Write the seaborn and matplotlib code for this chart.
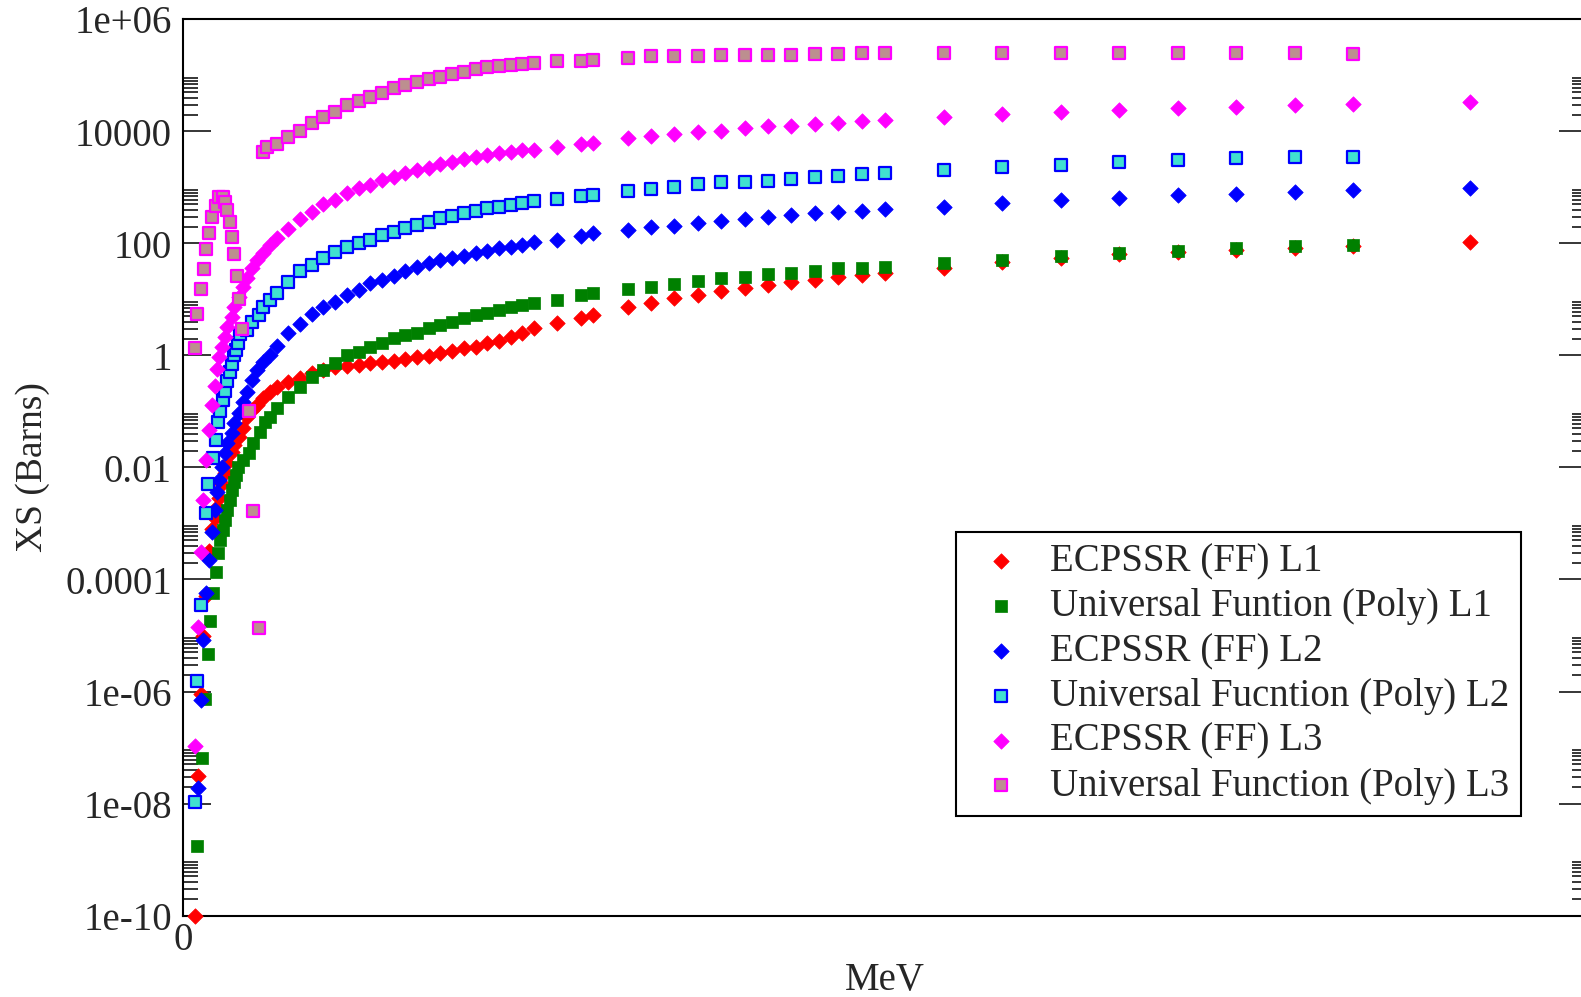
import numpy as np
import pandas as pd
import matplotlib.pyplot as plt
import seaborn as sns

# -----------------------------
# data
# energies in MeV, cross sections given as log10(barns)
# -----------------------------
mev_ec_l1 = [0.5, 0.65, 0.75, 0.85, 1.0, 1.1, 1.25, 1.35, 1.45, 1.55, 1.65, 1.8, 1.9, 2.1, 2.2,
             2.4, 2.55, 2.75, 2.95, 3.15, 3.4, 3.7, 4.0, 4.5, 5.0, 5.5, 6.0, 6.5, 7.0, 7.5,
             8.0, 8.5, 9.0, 9.5, 10, 10.5, 11, 11.5, 12, 12.5, 13, 13.5, 14, 14.5, 15,
             16, 17, 17.5, 19, 20, 21, 22, 23, 24, 25, 26, 27, 28, 29, 30,
             32.5, 35, 37.5, 40, 42.5, 45, 47.5, 50, 55]
log_ec_l1 = [-10.0, -7.5, -6.05, -5.0, -4.3, -3.5, -3.1, -2.9, -2.7, -2.55, -2.3, -2.1, -1.92, -1.72, -1.6,
             -1.45, -1.3, -1.1, -0.98, -0.88, -0.76, -0.66, -0.57, -0.48, -0.4, -0.32, -0.26, -0.21, -0.19, -0.17,
             -0.14, -0.12, -0.10, -0.06, -0.03, -0.01, 0.04, 0.08, 0.13, 0.15, 0.22, 0.26, 0.33, 0.40, 0.49,
             0.58, 0.67, 0.72, 0.87, 0.94, 1.03, 1.08, 1.15, 1.20, 1.26, 1.31, 1.35, 1.40, 1.44, 1.47,
             1.56, 1.67, 1.74, 1.81, 1.85, 1.88, 1.92, 1.96, 2.03]

mev_uf_l1 = [0.6, 0.8, 0.95, 1.05, 1.15, 1.3, 1.4, 1.5, 1.6, 1.7, 1.8, 1.9, 2.0, 2.1, 2.2,
             2.25, 2.35, 2.55, 2.8, 3.0, 3.3, 3.5, 3.7, 4.0, 4.5, 5.0, 5.5, 6.0, 6.5, 7.0,
             7.5, 8.0, 8.5, 9.0, 9.5, 10, 10.5, 11, 11.5, 12, 12.5, 13, 13.5, 14, 14.5,
             15, 16, 17, 17.5, 19, 20, 21, 22, 23, 24, 25, 26, 27, 28, 29,
             30, 32.5, 35, 37.5, 40, 42.5, 45, 47.5, 50]
log_uf_l1 = [-8.75, -7.18, -6.13, -5.33, -4.74, -4.24, -3.87, -3.53, -3.30, -3.12, -2.94, -2.76, -2.58, -2.40, -2.26,
             -2.13, -1.99, -1.86, -1.74, -1.56, -1.37, -1.19, -1.10, -0.94, -0.74, -0.56, -0.38, -0.26, -0.13, 0.01,
             0.06, 0.15, 0.22, 0.31, 0.37, 0.40, 0.49, 0.54, 0.60, 0.67, 0.72, 0.76, 0.81, 0.87, 0.90,
             0.94, 0.99, 1.08, 1.12, 1.19, 1.22, 1.28, 1.33, 1.38, 1.40, 1.45, 1.47, 1.51, 1.56, 1.56,
             1.58, 1.65, 1.71, 1.78, 1.83, 1.87, 1.92, 1.95, 1.97]

mev_ec_l2 = mev_ec_l1[1:]
log_ec_l2 = [-7.72, -6.15, -5.08, -4.24, -3.65, -3.15, -2.76, -2.44, -2.22, -1.99, -1.74, -1.56, -1.38, -1.2,
             -1.02, -0.83, -0.65, -0.44, -0.26, -0.12, 0.01, 0.17, 0.40, 0.56, 0.74, 0.86, 0.96, 1.08, 1.17,
             1.29, 1.35, 1.42, 1.51, 1.58, 1.65, 1.71, 1.74, 1.78, 1.83, 1.87, 1.92, 1.94, 1.97, 2.02,
             2.07, 2.13, 2.18, 2.24, 2.29, 2.31, 2.37, 2.40, 2.44, 2.47, 2.51, 2.54, 2.56, 2.58, 2.62,
             2.65, 2.72, 2.78, 2.81, 2.87, 2.89, 2.92, 2.96, 2.99]

mev_uf_l2 = [0.5, 0.6, 0.75, 1.0, 1.05, 1.3, 1.4, 1.5, 1.6, 1.7, 1.8, 1.9, 2.0, 2.1, 2.2,
             2.25, 2.35, 2.45, 2.75, 2.95, 3.25, 3.4, 3.7, 4.0, 4.5, 5.0, 5.5, 6.0, 6.5, 7.0,
             7.5, 8.0, 8.5, 9.0, 9.5, 10, 10.5, 11, 11.5, 12, 12.5, 13, 13.5, 14, 14.5,
             15, 16, 17, 17.5, 19, 20, 21, 22, 23, 24, 25, 26, 27, 28, 29,
             30, 32.5, 35, 37.5, 40, 42.5, 45, 47.5, 50]
log_uf_l2 = [-7.97, -5.81, -4.46, -2.81, -2.29, -1.83, -1.51, -1.19, -1.0, -0.79, -0.63, -0.46, -0.30, -0.15, 0.0,
             0.10, 0.22, 0.38, 0.45, 0.60, 0.72, 0.87, 0.99, 1.12, 1.32, 1.50, 1.62, 1.74, 1.84, 1.93,
             2.00, 2.07, 2.15, 2.21, 2.27, 2.33, 2.39, 2.45, 2.49, 2.54, 2.58, 2.63, 2.66, 2.69, 2.72,
             2.75, 2.79, 2.84, 2.87, 2.94, 2.97, 3.01, 3.06, 3.09, 3.10, 3.12, 3.16, 3.19, 3.21, 3.24,
             3.25, 3.31, 3.36, 3.41, 3.45, 3.49, 3.52, 3.54, 3.55]

mev_ec_l3 = mev_ec_l1
log_ec_l3 = [-6.97, -4.85, -3.51, -2.58, -1.87, -1.33, -0.88, -0.54, -0.24, -0.03, 0.15, 0.33, 0.51, 0.69, 0.87,
             1.04, 1.22, 1.38, 1.56, 1.71, 1.83, 1.97, 2.10, 2.26, 2.44, 2.56, 2.71, 2.78, 2.90, 2.99,
             3.04, 3.13, 3.19, 3.26, 3.31, 3.35, 3.42, 3.46, 3.51, 3.54, 3.58, 3.62, 3.63, 3.67, 3.67,
             3.73, 3.78, 3.80, 3.88, 3.92, 3.96, 3.99, 4.01, 4.06, 4.09, 4.10, 4.13, 4.16, 4.19, 4.21,
             4.26, 4.31, 4.35, 4.39, 4.42, 4.44, 4.47, 4.49, 4.53]

mev_uf_l3 = [0.5, 0.6, 0.75, 0.9, 1.0, 1.1, 1.25, 1.4, 1.55, 1.7, 1.8, 1.9, 2.0, 2.1, 2.2,
             2.3, 2.4, 2.5, 2.8, 3.0, 3.25, 3.4, 3.6, 4.0, 4.5, 5.0, 5.5, 6.0, 6.5, 7.0,
             7.5, 8.0, 8.5, 9.0, 9.5, 10, 10.5, 11, 11.5, 12, 12.5, 13, 13.5, 14, 14.5,
             15, 16, 17, 17.5, 19, 20, 21, 22, 23, 24, 25, 26, 27, 28, 29,
             30, 32.5, 35, 37.5, 40, 42.5, 45, 47.5, 50]
log_uf_l3 = [0.13, 0.74, 1.19, 1.54, 1.90, 2.19, 2.47, 2.67, 2.83, 2.83, 2.74, 2.60, 2.38, 2.12, 1.81,
             1.42, 1.01, 0.47, -0.99, -2.78, -4.87, 3.64, 3.73, 3.78, 3.91, 4.01, 4.16, 4.26, 4.35, 4.47,
             4.55, 4.62, 4.69, 4.77, 4.83, 4.89, 4.93, 4.98, 5.03, 5.06, 5.11, 5.15, 5.17, 5.19, 5.21,
             5.22, 5.25, 5.26, 5.28, 5.32, 5.34, 5.34, 5.35, 5.37, 5.37, 5.37, 5.37, 5.38, 5.38, 5.41,
             5.41, 5.41, 5.41, 5.41, 5.41, 5.41, 5.40, 5.40, 5.38]

labels = ["ECPSSR (FF) L1", "Universal Funtion (Poly) L1",
          "ECPSSR (FF) L2", "Universal Fucntion (Poly) L2",
          "ECPSSR (FF) L3", "Universal Function (Poly) L3"]

ytick_vals = [1e-10, 1e-8, 1e-6, 1e-4, 1e-2, 1, 100, 1e4, 1e6]
ytick_text = ["1e-10", "1e-08", "1e-06", "0.0001", "0.01", "1", "100", "10000", "1e+06"]

# -----------------------------
# build a long table
# -----------------------------
frames = []
for lab, xs, ls in zip(labels,
                       [mev_ec_l1, mev_uf_l1, mev_ec_l2, mev_uf_l2, mev_ec_l3, mev_uf_l3],
                       [log_ec_l1, log_uf_l1, log_ec_l2, log_uf_l2, log_ec_l3, log_uf_l3]):
    frames.append(pd.DataFrame({"MeV": xs, "XS": np.power(10.0, ls), "series": lab}))
df = pd.concat(frames, ignore_index=True)

# marker looks per series
styles = {
    labels[0]: dict(marker="D", s=62, color="#ff0000", edgecolor="#ff0000", linewidth=0.5),
    labels[1]: dict(marker="s", s=78, color="#008000", edgecolor="#008000", linewidth=0.5),
    labels[2]: dict(marker="D", s=62, color="#0000ff", edgecolor="#0000ff", linewidth=0.5),
    labels[3]: dict(marker="s", s=64, color="#40e0d0", edgecolor="#0000ff", linewidth=1.6),
    labels[4]: dict(marker="D", s=62, color="#ff00ff", edgecolor="#ff00ff", linewidth=0.5),
    labels[5]: dict(marker="s", s=64, color="#bc8f8f", edgecolor="#ff00ff", linewidth=1.6),
}

# -----------------------------
# plot
# -----------------------------
sns.set_style("ticks")
plt.rcParams["font.family"] = ["Liberation Serif", "DejaVu Serif"]

fig = plt.figure(figsize=(15.81, 9.97), dpi=100)
ax = fig.add_axes([183 / 1581, (997 - 915.5) / 997, 1404 / 1581, 896 / 997])

for i, lab in enumerate(labels):
    sns.scatterplot(data=df[df["series"] == lab], x="MeV", y="XS", ax=ax,
                    label=lab, clip_on=False, zorder=3 + i, **styles[lab])

ax.set_yscale("log")
ax.set_xlim(0, 60)
ax.set_ylim(1e-10, 1e6)

ax.set_yticks(ytick_vals)
ax.set_yticklabels(ytick_text)
minor = [k * 10.0 ** e for e in range(-10, 5, 2) for k in range(2, 10)]
ax.set_yticks(minor, minor=True)
ax.yaxis.set_minor_formatter(plt.NullFormatter())
ax.set_xticks([0])
ax.set_xticklabels(["0"])

ax.tick_params(axis="y", which="major", direction="in", length=20, width=1.3,
               left=True, right=True, labelsize=28, pad=8)
ax.tick_params(axis="y", which="minor", direction="in", length=10.5, width=1.3,
               left=True, right=True)
ax.tick_params(axis="x", which="both", direction="in", length=0, labelsize=28, pad=5,
               top=False)

for sp in ax.spines.values():
    sp.set_linewidth(1.5)
    sp.set_color("black")

ax.set_xlabel("MeV", fontsize=28)
ax.set_ylabel("XS (Barns)", fontsize=27)
ax.xaxis.set_label_coords(0.5, -0.052)
ax.yaxis.set_label_coords(-0.095, 0.5)

leg = ax.legend(loc="upper left", bbox_to_anchor=(0.5506, 0.428), borderaxespad=0,
                fontsize=28, frameon=True, fancybox=False, framealpha=1,
                edgecolor="black", borderpad=0.3, labelspacing=0.2,
                handlelength=1.7, handletextpad=0.42, scatterpoints=1)
leg.get_frame().set_linewidth(1.5)

fig.savefig("out.png", dpi=100)
